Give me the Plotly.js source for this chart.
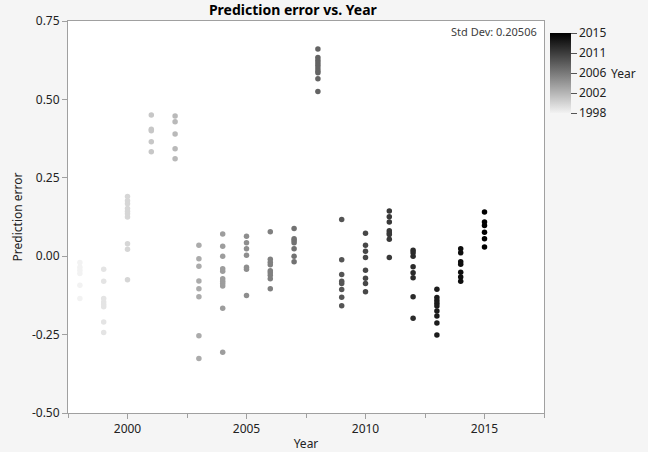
<!DOCTYPE html>
<html>
<head>
<meta charset="utf-8">
<script src="https://cdn.plot.ly/plotly-3.0.1.min.js"></script>
<style>html,body{margin:0;padding:0;background:#f5f5f5;}#chart{width:648px;height:452px;}</style>
</head>
<body>
<div id="chart"></div>
<script>
const e1998 = [-0.02, -0.035, -0.045, -0.055, -0.093, -0.135];
const e1999 = [-0.042, -0.08, -0.135, -0.146, -0.154, -0.161, -0.21, -0.243];
const e2000 = [0.19, 0.177, 0.167, 0.152, 0.143, 0.135, 0.125, 0.04, 0.022, -0.075];
const e2001 = [0.45, 0.405, 0.40, 0.365, 0.333];
const e2002 = [0.447, 0.429, 0.39, 0.343, 0.311];
const e2003 = [0.035, -0.008, -0.032, -0.079, -0.104, -0.129, -0.254, -0.326];
const e2004 = [0.071, 0.032, 0.0, -0.04, -0.048, -0.072, -0.08, -0.087, -0.095, -0.166, -0.306];
const e2005 = [0.064, 0.043, 0.024, 0.003, -0.035, -0.042, -0.125];
const e2006 = [0.078, -0.01, -0.019, -0.027, -0.046, -0.053, -0.061, -0.072, -0.104];
const e2007 = [0.088, 0.056, 0.05, 0.043, 0.024, 0.0, -0.018];
const e2008 = [0.661, 0.634, 0.625, 0.617, 0.609, 0.6, 0.591, 0.585, 0.566, 0.525];
const e2009 = [0.117, -0.011, -0.058, -0.08, -0.087, -0.106, -0.131, -0.158];
const e2010 = [0.073, 0.035, 0.016, -0.004, -0.045, -0.07, -0.087, -0.113];
const e2011 = [0.144, 0.126, 0.109, 0.081, 0.074, 0.069, 0.054, -0.004];
const e2012 = [0.019, 0.011, 0.0, -0.034, -0.053, -0.069, -0.129, -0.198];
const e2013 = [-0.105, -0.132, -0.141, -0.15, -0.159, -0.175, -0.191, -0.213, -0.251];
const e2014 = [0.024, 0.011, -0.018, -0.026, -0.051, -0.066, -0.08];
const e2015 = [0.141, 0.109, 0.098, 0.076, 0.056, 0.029];

const yearList = [1998,1999,2000,2001,2002,2003,2004,2005,2006,2007,2008,2009,2010,2011,2012,2013,2014,2015];
const errorLists = [e1998,e1999,e2000,e2001,e2002,e2003,e2004,e2005,e2006,e2007,e2008,e2009,e2010,e2011,e2012,e2013,e2014,e2015];

const xTickVals = [2000, 2005, 2010, 2015];
const yTickVals = [-0.5, -0.25, 0, 0.25, 0.5, 0.75];
const yTickText = ['-0.50', '-0.25', '0.00', '0.25', '0.50', '0.75'];
const cbTickVals = [1998, 2002.25, 2006.5, 2010.75, 2015];
const cbTickText = ['1998', '2002', '2006', '2011', '2015'];
const stdDevText = 'Std Dev: 0.20506';

const xs = [], ys = [];
yearList.forEach((yr, i) => { errorLists[i].forEach(v => { xs.push(yr); ys.push(v); }); });

const FONT = 'Noto Sans, Open Sans, sans-serif';

const trace = {
  type: 'scatter', mode: 'markers', x: xs, y: ys,
  marker: {
    size: 5.5, color: xs, cmin: 1998, cmax: 2015,
    colorscale: [[0, '#f2f2f2'], [1, '#000000']],
    line: {width: 0},
    showscale: true,
    colorbar: {
      thickness: 21, thicknessmode: 'pixels',
      len: 80, lenmode: 'pixels',
      x: 1.0126, xanchor: 'left', xref: 'paper',
      y: 0.867, yanchor: 'middle', yref: 'paper',
      outlinewidth: 0, xpad: 0, ypad: 0,
      tickmode: 'array', tickvals: cbTickVals, ticktext: cbTickText,
      ticks: 'outside', ticklen: 6, tickcolor: '#555', tickwidth: 1,
      tickfont: {family: FONT, size: 12, color: '#222'}
    }
  },
  hoverinfo: 'x+y'
};

const layout = {
  width: 648, height: 452,
  paper_bgcolor: '#f5f5f5', plot_bgcolor: '#ffffff',
  margin: {l: 68, r: 104, t: 21, b: 39, pad: 0},
  showlegend: false,
  title: {text: '<b>Prediction error vs. Year</b>', font: {family: FONT, size: 14, color: '#000'},
          x: 0.4725, xanchor: 'center', xref: 'paper', y: 0.977, yanchor: 'middle', yref: 'container'},
  xaxis: {
    range: [1997.5, 2017.5], tickmode: 'array', tickvals: xTickVals,
    showgrid: false, zeroline: false,
    showline: true, linecolor: '#a0a0a0', linewidth: 1, mirror: true,
    ticks: 'outside', ticklen: 5, tickcolor: '#a0a0a0',
    minor: {dtick: 2.5, tick0: 2000, ticks: 'outside', ticklen: 4, tickcolor: '#a0a0a0', showgrid: false},
    tickfont: {family: FONT, size: 12, color: '#222'},
    title: {text: 'Year', font: {family: FONT, size: 12, color: '#222'}, standoff: 4}
  },
  yaxis: {
    range: [-0.5, 0.75], tickmode: 'array', tickvals: yTickVals, ticktext: yTickText,
    showgrid: false, zeroline: false,
    showline: true, linecolor: '#a0a0a0', linewidth: 1, mirror: true,
    ticks: 'outside', ticklen: 5, tickcolor: '#a0a0a0',
    tickfont: {family: FONT, size: 12, color: '#222'},
    title: {text: 'Prediction error', font: {family: FONT, size: 12, color: '#222'}, standoff: 6}
  },
  annotations: [
    {text: stdDevText, xref: 'paper', yref: 'paper', x: 0.99, y: 0.997, xanchor: 'right', yanchor: 'top',
     showarrow: false, font: {family: FONT, size: 11, color: '#404040'}},
    {text: 'Year', xref: 'paper', yref: 'paper', x: 1.1366, y: 0.867, xanchor: 'left', yanchor: 'middle',
     showarrow: false, font: {family: FONT, size: 12, color: '#222'}}
  ]
};

Plotly.newPlot('chart', [trace], layout, {displayModeBar: false, staticPlot: true});
</script>
</body>
</html>
